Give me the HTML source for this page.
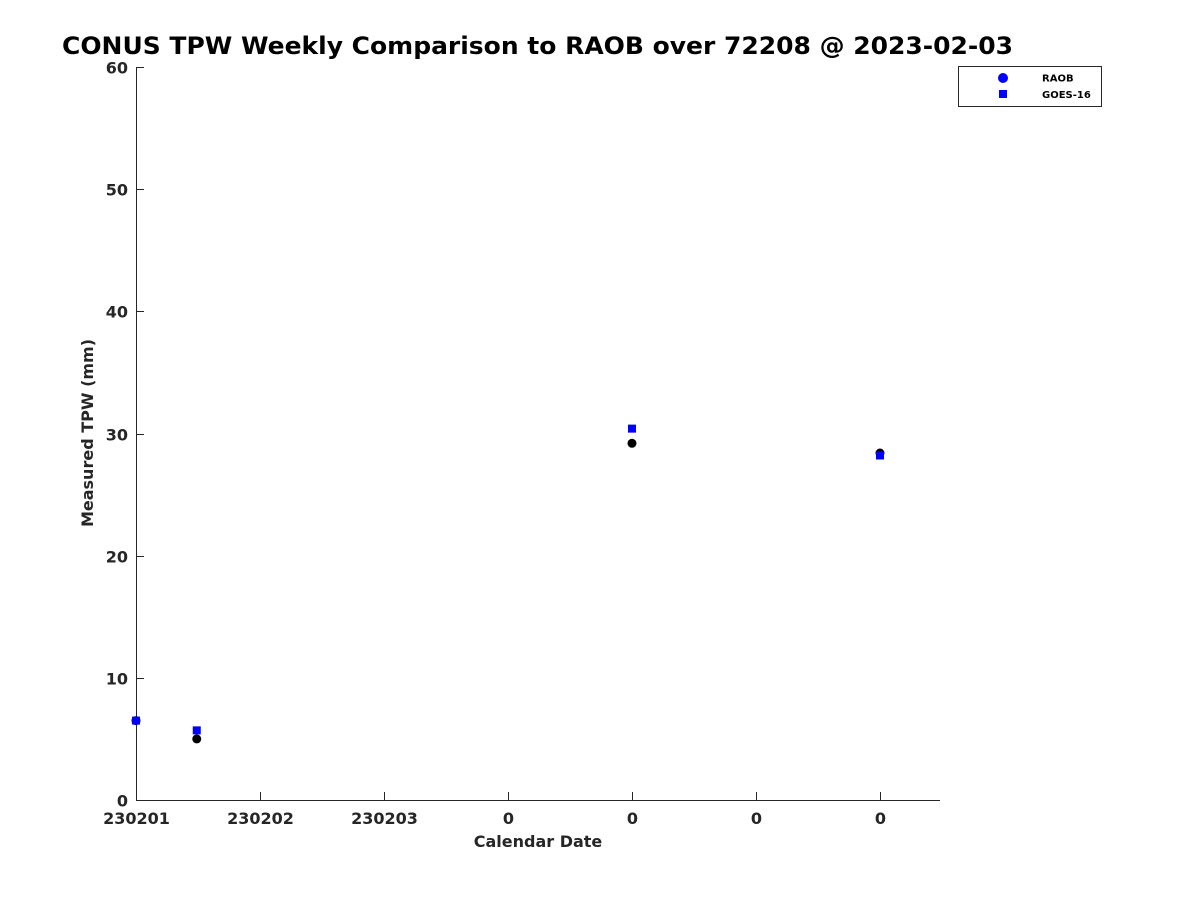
<!DOCTYPE html>
<html><head><meta charset="utf-8"><style>
body{margin:0;background:#fff;}
svg{display:block;font-family:"DejaVu Sans","Liberation Sans",sans-serif;font-weight:bold;}
</style></head><body>
<svg id="chart" width="1200" height="900" xmlns="http://www.w3.org/2000/svg">
<rect width="1200" height="900" fill="#fff"/>
<text x="62" y="54" textLength="951" lengthAdjust="spacingAndGlyphs" font-size="24" fill="#000">CONUS TPW Weekly Comparison to RAOB over 72208 @ 2023-02-03</text>
<g id="axes"></g>
<g id="marks"></g>
<text x="538" y="847" text-anchor="middle" font-size="16" fill="#262626">Calendar Date</text>
<text transform="translate(93,433) rotate(-90)" text-anchor="middle" font-size="16" fill="#262626">Measured TPW (mm)</text>
<g>
<rect x="958.5" y="66.5" width="143" height="40" fill="#fff" stroke="#262626" stroke-width="1"/>
<circle cx="1003" cy="78" r="5" fill="#0000ff"/>
<text x="1042" y="81.5" font-size="10" fill="#000">RAOB</text>
<rect x="999" y="90" width="8" height="8" fill="#0000ff"/>
<text x="1042" y="98" font-size="10" fill="#000">GOES-16</text>
</g>
</svg>
<script>
const xTickLabels = ["230201","230202","230203","0","0","0","0"];
const yTicks = [0,10,20,30,40,50,60];
const raobX = [0, 0.49, 4.0, 6.0];
const raobY = [6.5, 5.0, 29.2, 28.4];
const goesX = [0, 0.49, 4.0, 6.0];
const goesY = [6.5, 5.7, 30.4, 28.2];
const X0=136,X1=940,Y0=800,Y1=67,XMAX=6.484,YMAX=60;
const xs=v=>X0+v/XMAX*(X1-X0);
const ys=v=>Y0-v/YMAX*(Y0-Y1);
const NS="http://www.w3.org/2000/svg";
const axes=document.getElementById('axes'),marks=document.getElementById('marks');
function mk(tag,attrs,parent){const e=document.createElementNS(NS,tag);for(const k in attrs)e.setAttribute(k,attrs[k]);parent.appendChild(e);return e;}
let l=mk('line',{x1:X0+.5,y1:Y1,x2:X0+.5,y2:Y0,stroke:'#262626'},axes);


l=mk('line',{x1:X0,y1:Y0+.5,x2:X1,y2:Y0+.5,stroke:'#262626'},axes);


yTicks.forEach(v=>{const y=Math.round(ys(v))+.5;
 const t=mk('line',{x1:X0,y1:y,x2:X0+8,y2:y,stroke:'#262626'},axes);
 
 
 const tx=mk('text',{x:X0-8,y:y+6,'text-anchor':'end','font-size':'16',fill:'#262626'},axes);tx.textContent=v;
 
 });
xTickLabels.forEach((s,i)=>{const x=Math.round(xs(i))+.5;
 const t=mk('line',{x1:x,y1:Y0,x2:x,y2:Y0-8,stroke:'#262626'},axes);
 
 
 const tx=mk('text',{x:x,y:824,'text-anchor':'middle','font-size':'16',fill:'#262626'},axes);tx.textContent=s;
 
 });
raobX.forEach((v,i)=>{const c=mk('circle',{cx:xs(v),cy:ys(raobY[i]),r:4.5,fill:'#000'},marks);
 
 });
goesX.forEach((v,i)=>{const r=mk('rect',{x:xs(v)-4,y:ys(goesY[i])-4,width:8,height:8,fill:'#0000ff'},marks);
 
 });
</script>
</body></html>
